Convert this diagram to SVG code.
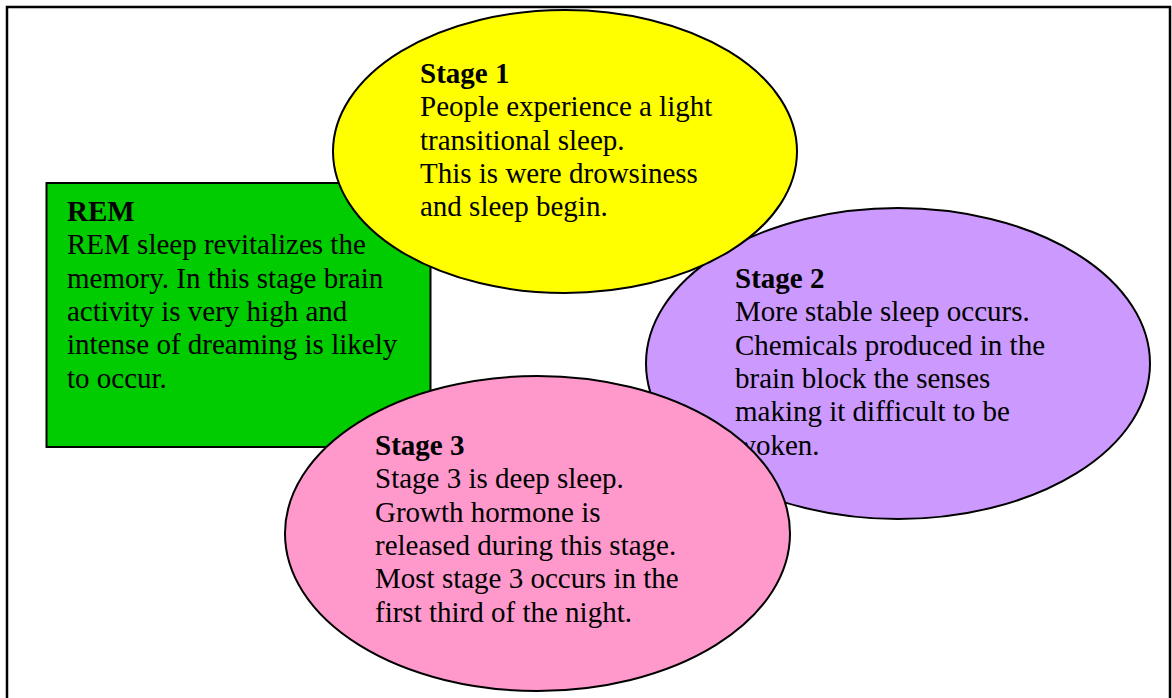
<svg xmlns="http://www.w3.org/2000/svg" width="1172" height="698" viewBox="0 0 1172 698">
<style>
.t{font-family:"Liberation Serif","Times New Roman",serif;font-size:29px;fill:#000}
.b{font-weight:bold}
.s{stroke:#000;stroke-width:2}
</style>
<rect x="0" y="0" width="1172" height="698" fill="#fff"/>
<path d="M7,700 V7 H1170 V700" fill="none" stroke="#000" stroke-width="2.5"/>
<g id="connectors"></g>
<g id="rem">
<rect x="46.5" y="183" width="384" height="264" fill="#00CC00" class="s" stroke-width="1.5"/>
<text class="t"><tspan x="67" y="221" class="b">REM</tspan><tspan x="67" y="254.3">REM sleep revitalizes the</tspan><tspan x="67" y="287.7">memory. In this stage brain</tspan><tspan x="67" y="321">activity is very high and</tspan><tspan x="67" y="354.4">intense of dreaming is likely</tspan><tspan x="67" y="387.7">to occur.</tspan></text>
</g>
<g id="stage2">
<ellipse cx="898" cy="363.5" rx="252" ry="155.5" fill="#CC99FF" class="s"/>
<text class="t"><tspan x="735" y="288" class="b">Stage 2</tspan><tspan x="735" y="321.3">More stable sleep occurs.</tspan><tspan x="735" y="354.7">Chemicals produced in the</tspan><tspan x="735" y="388">brain block the senses</tspan><tspan x="735" y="421.4">making it difficult to be</tspan><tspan x="735" y="454.7">woken.</tspan></text>
</g>
<g id="stage1">
<ellipse cx="565" cy="151.5" rx="232" ry="141.5" fill="#FFFF00" class="s"/>
<text class="t"><tspan x="420" y="83" class="b">Stage 1</tspan><tspan x="420" y="116.3">People experience a light</tspan><tspan x="420" y="149.7">transitional sleep.</tspan><tspan x="420" y="183">This is were drowsiness</tspan><tspan x="420" y="216.4">and sleep begin.</tspan></text>
</g>
<g id="stage3">
<ellipse cx="537.5" cy="533.5" rx="252.5" ry="157.5" fill="#FF99CC" class="s"/>
<text class="t"><tspan x="375" y="455" class="b">Stage 3</tspan><tspan x="375" y="488.3">Stage 3 is deep sleep.</tspan><tspan x="375" y="521.7">Growth hormone is</tspan><tspan x="375" y="555">released during this stage.</tspan><tspan x="375" y="588.4">Most stage 3 occurs in the</tspan><tspan x="375" y="621.7">first third of the night.</tspan></text>
</g>
</svg>
